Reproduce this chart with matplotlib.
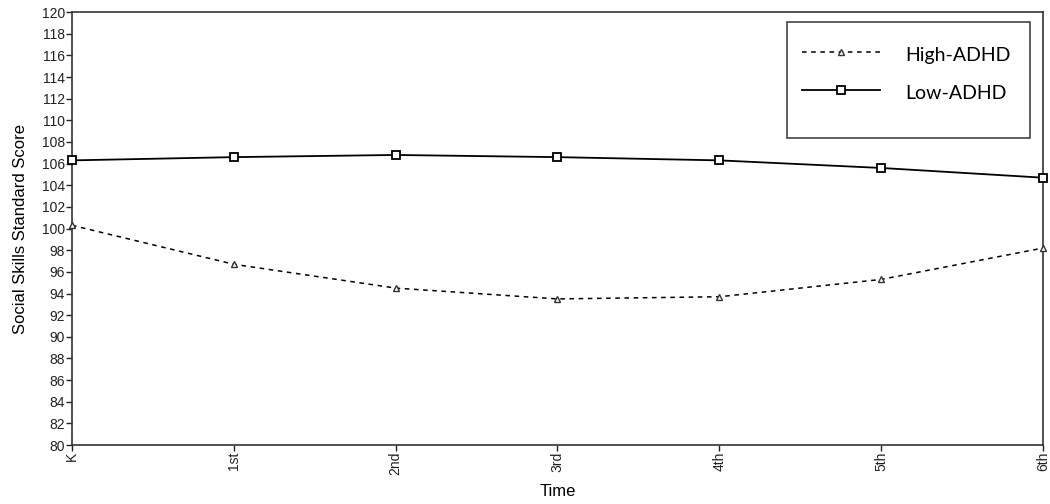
import matplotlib
matplotlib.use("Agg")
import matplotlib.pyplot as plt
from matplotlib.patches import Rectangle

# Data
time_labels = ['K', '1st', '2nd', '3rd', '4th', '5th', '6th']
high_adhd = [100.3, 96.7, 94.5, 93.5, 93.7, 95.3, 98.2]
low_adhd = [106.3, 106.6, 106.8, 106.6, 106.3, 105.6, 104.7]

plt.rcParams['font.family'] = ['Liberation Sans', 'DejaVu Sans']

fig = plt.figure(figsize=(10.5, 5.04), dpi=100)
ax = fig.add_axes([0.0686, 0.117, 0.9247, 0.859])

x = list(range(len(time_labels)))
ax.plot(x, high_adhd, color='black', linestyle=(0, (3, 3)), linewidth=1.1,
        marker='^', markersize=4.5, markerfacecolor='white',
        markeredgecolor='#333333', markeredgewidth=1.0, label='High-ADHD',
        clip_on=False, zorder=3)
ax.plot(x, low_adhd, color='black', linestyle='-', linewidth=1.3,
        marker='s', markersize=6, markerfacecolor='white',
        markeredgecolor='black', markeredgewidth=1.3, label='Low-ADHD',
        clip_on=False, zorder=3)

ax.set_xlim(0, len(time_labels) - 1)
ax.set_ylim(80, 120)
ax.set_yticks(range(80, 121, 2))
ax.set_xticks(x)
ax.set_xticklabels(time_labels, rotation=90)
ax.tick_params(axis='both', direction='out', length=4, width=1,
               labelsize=10, colors='#222222', pad=1)

for s in ax.spines.values():
    s.set_color('#333333')
    s.set_linewidth(1.2)

ax.set_xlabel('Time', fontsize=12, labelpad=6)
ax.set_ylabel('Social Skills Standard Score', fontsize=12, labelpad=10)

# legend box drawn separately so entries can sit in its upper part
box = Rectangle((0.736, 0.709), 0.251, 0.268, transform=ax.transAxes,
                facecolor='white', edgecolor='#444444', linewidth=1.2, zorder=4)
ax.add_patch(box)
leg = ax.legend(loc='upper left', bbox_to_anchor=(0.736, 0.965),
                handlelength=4.0, handletextpad=1.3, handleheight=1.5,
                borderpad=0.8, labelspacing=0.72, frameon=False,
                borderaxespad=0,
                prop={'family': ['Lato', 'DejaVu Sans'], 'size': 14})
leg.set_zorder(5)

fig.savefig('out.png', dpi=100)
